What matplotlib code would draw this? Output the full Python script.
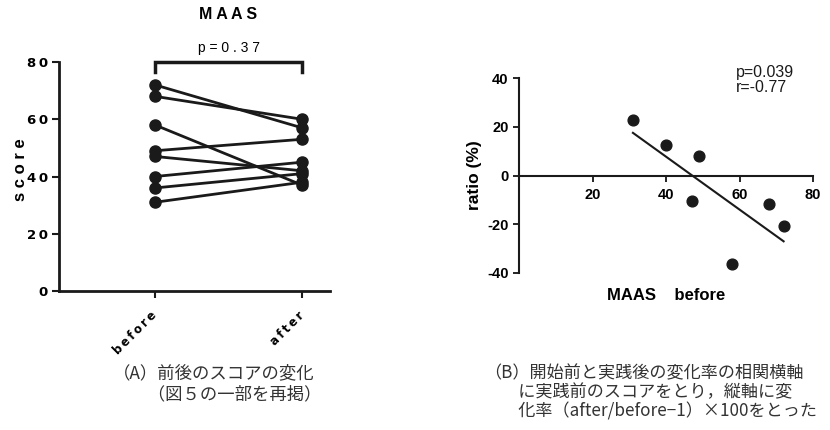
import matplotlib
matplotlib.use("Agg")
import matplotlib.pyplot as plt

plt.rcParams["font.family"] = ["Liberation Sans", "DejaVu Sans"]
plt.rcParams["axes.unicode_minus"] = False

# (A) paired scores
groups = ["before", "after"]
before = [72, 68, 58, 49, 47, 40, 36, 31]
after = [57, 60, 37, 53, 42, 45, 41, 38]
p_pair = "p = 0 . 3 7"

# (B) ratio vs before score
ratio_x = [31, 40, 47, 49, 58, 68, 72]
ratio_y = [22.6, 12.5, -10.6, 8.2, -36.2, -11.8, -20.8]
fit_x = [31, 72]
fit_y = [17.5, -27.0]
y_ticks_a = [0, 20, 40, 60, 80]
x_ticks_b = [20, 40, 60, 80]
y_ticks_b = [-40, -20, 0, 20, 40]

caption_a = ["（A）前後のスコアの変化", "　　（図５の一部を再掲）"]
caption_b = ["（B）開始前と実践後の変化率の相関横軸",
             "　　に実践前のスコアをとり，縦軸に変",
             "　　化率（after/before−1）×100をとった"]

W, H = 830, 430
fig = plt.figure(figsize=(W / 100, H / 100), dpi=100)
THIN = "\u2009"


def px_axes(x0, y_top, x1, y_bot):
    return fig.add_axes([x0 / W, 1 - y_bot / H, (x1 - x0) / W, (y_bot - y_top) / H])


# ---- panel A
ax = px_axes(59, 62, 330, 291)
ax.set_xlim(-0.653, 1.19)
ax.set_ylim(0, 80)
for b, a in zip(before, after):
    ax.plot([0, 1], [b, a], color="#1a1a1a", lw=2, marker="o", ms=8,
            clip_on=False, zorder=3)
for s in ("top", "right"):
    ax.spines[s].set_visible(False)
for s in ("left", "bottom"):
    ax.spines[s].set_linewidth(2)
    ax.spines[s].set_color("#1a1a1a")
ax.set_yticks(y_ticks_a)
ax.set_yticklabels([THIN.join(str(t)) for t in y_ticks_a], fontsize=9.5,
                   fontweight="bold", family=["DejaVu Sans"])
ax.set_xticks([0, 1])
ax.set_xticklabels([THIN.join(g) for g in groups], rotation=45, ha="right",
                   va="center", rotation_mode="anchor", fontsize=8.5,
                   fontweight="bold", family=["DejaVu Sans"])
ax.tick_params(axis="y", width=1.5, length=5, color="#1a1a1a", pad=3)
ax.tick_params(axis="x", width=1.5, length=5, color="#1a1a1a", pad=11)
ax.set_ylabel("s c o r e", fontsize=12, fontweight="bold")
ax.yaxis.set_label_coords(-0.115, 0.53)
# bracket
ax.plot([0, 0, 1, 1], [76.5, 80, 80, 76.5], color="#1a1a1a", lw=2.5,
        clip_on=False, solid_joinstyle="miter")
ax.text(0.5, 82.5, p_pair, ha="center", va="bottom", fontsize=10)
ax.text(0.5, 94, "M A A S", ha="center", va="bottom", fontsize=11.5, fontweight="bold")

# ---- panel B
bx = px_axes(519, 78, 813, 273)
bx.set_xlim(0, 80)
bx.set_ylim(-40, 40)
bx.scatter(ratio_x, ratio_y, s=60, color="#1a1a1a", zorder=3)
bx.plot(fit_x, fit_y, color="#1a1a1a", lw=1.5)
for s in ("top", "right"):
    bx.spines[s].set_visible(False)
bx.spines["bottom"].set_position(("data", 0))
for s in ("left", "bottom"):
    bx.spines[s].set_linewidth(1.5)
    bx.spines[s].set_color("#1a1a1a")
bx.set_xticks(x_ticks_b)
bx.set_yticks(y_ticks_b)
bx.tick_params(width=1.2, length=4, labelsize=10.5)
bx.tick_params(axis="x", pad=5)
for lab in bx.get_xticklabels() + bx.get_yticklabels():
    lab.set_fontweight("bold")
bx.set_ylabel("ratio (%)", fontsize=12.5, fontweight="bold", labelpad=4)
bx.text(0.5, -0.115, "MAAS    before", transform=bx.transAxes, ha="center",
        va="center", fontsize=12, fontweight="bold")
bx.text(59, 39, "p=0.039\nr=-0.77", ha="left", va="center", fontsize=11.5,
        linespacing=1.0, color="#1a1a1a")

# ---- captions
cjk = ["Noto Sans CJK JP", "DejaVu Sans"]
for i, line in enumerate(caption_a):
    fig.text(113 / W, 1 - (373 + i * 21) / H, line, family=cjk, fontsize=12.5,
             color="#333333", va="center")
for i, line in enumerate(caption_b):
    fig.text(484 / W, 1 - (373 + i * 19) / H, line, family=cjk, fontsize=12.3,
             color="#333333", va="center")

fig.savefig("out.png", dpi=100)
